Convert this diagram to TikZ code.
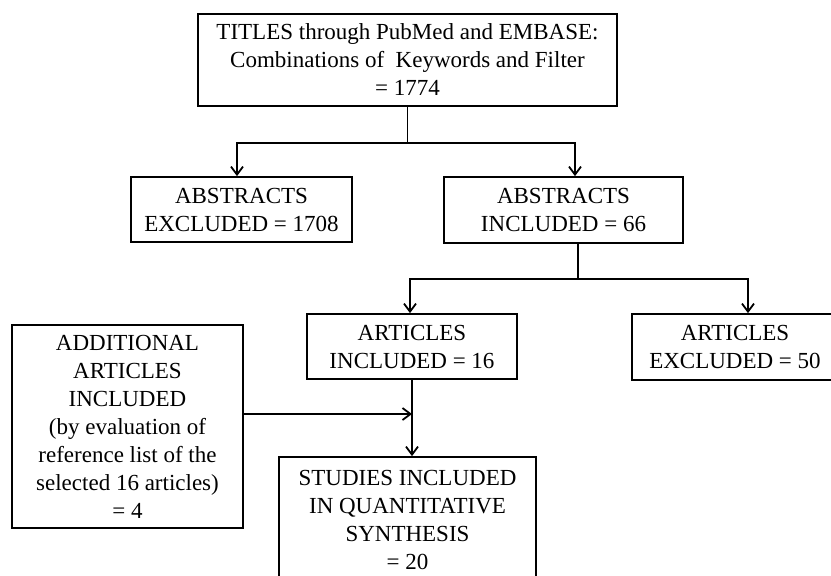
\documentclass[tikz,border=0pt]{standalone}
\usepackage{fontspec}
\setmainfont{Liberation Serif}
\usetikzlibrary{arrows.meta}

\begin{document}
\begin{tikzpicture}[x=1pt, y=-1pt, line width=1.8pt, >={Straight Barb[length=8pt,width=12pt]},
    every node/.style={font=\fontsize{23}{28}\selectfont, align=center, inner sep=0pt}]
            \clip (0,0) rectangle (831,576);
            \node[draw, minimum width=419pt, minimum height=92pt] at (407.5,60) (titles) {TITLES through PubMed and EMBASE:\\Combinations of\ \ Keywords and Filter\\= 1774};
            \node[draw, minimum width=221pt, minimum height=65pt] at (241.5,209.5) (absexc) {ABSTRACTS\\EXCLUDED = 1708};
            \node[draw, minimum width=239pt, minimum height=66pt] at (563.5,210) (absinc) {ABSTRACTS\\INCLUDED = 66};
            \node[draw, minimum width=210pt, minimum height=65pt] at (412,346.5) (artinc) {ARTICLES\\INCLUDED = 16};
            \node[draw, minimum width=206pt, minimum height=66pt] at (735,347) (artexc) {ARTICLES\\EXCLUDED = 50};
            \node[draw, minimum width=231pt, minimum height=203pt] at (127.5,426.5) (addl) {ADDITIONAL\\ARTICLES\\INCLUDED\\(by evaluation of\\reference list of the\\selected 16 articles)\\= 4};
            \node[draw, minimum width=257pt, minimum height=126pt] at (407.5,520) (studies) {STUDIES INCLUDED\\IN QUANTITATIVE\\SYNTHESIS\\= 20};

            \draw (titles.south) -- ++(0,36) coordinate (t1);
            \draw[->] (t1) -| ([xshift=-4.5pt]absexc.north);
            \draw[->] (t1) -| ([xshift=11.5pt]absinc.north);
            \draw ([xshift=14.5pt]absinc.south) -- ++(0,35) coordinate (a1);
            \draw[->] (a1) -| ([xshift=-2pt]artinc.north);
            \draw[->] (a1) -| ([xshift=13pt]artexc.north);
            \draw[->] (artinc.south) -- (artinc.south |- studies.north);
            \draw[->] ([yshift=12.5pt]addl.east) coordinate (e1) -- (e1 -| artinc.south);
        \end{tikzpicture}
\end{document}
